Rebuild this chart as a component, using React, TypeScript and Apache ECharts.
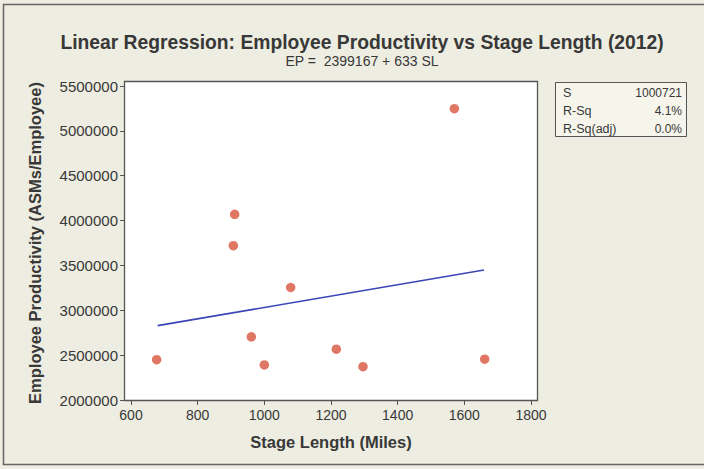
import React, { useEffect, useRef } from "react";
import * as echarts from "echarts";

const stageLength = [677, 911, 907, 961, 1000, 1079, 1216, 1296, 1570, 1661];
const productivity = [2450000, 4070000, 3720000, 2704000, 2391000, 3254000, 2566000, 2372000, 5247000, 2455000];
const fitX = [680, 1659];
const fitY = [2829000, 3449000];
const statLabels = ["S", "R-Sq", "R-Sq(adj)"];
const statValues = ["1000721", "4.1%", "0.0%"];
const titleText = "Linear Regression: Employee Productivity vs Stage Length (2012)";
const subtitleText = "EP =  2399167 + 633 SL";
const xTitle = "Stage Length (Miles)";
const yTitle = "Employee Productivity (ASMs/Employee)";

const FONT = "Liberation Sans, Arial, sans-serif";
const TXT = "#383838";
const FRAME = "#555555";

export default function App() {
  const ref = useRef<HTMLDivElement>(null);
  useEffect(() => {
    if (!ref.current) return;
    const chart = echarts.init(ref.current, undefined, { renderer: "svg" });
    const boxX = 555, boxY = 82, boxW = 131, boxH = 54;
    const statTexts: any[] = [];
    statLabels.forEach((l, i) => {
      statTexts.push({
        type: "text", x: boxX + 8, y: boxY + 11 + i * 18,
        style: { text: l, font: `12.5px ${FONT}`, fill: TXT, textAlign: "left", textVerticalAlign: "middle" },
      });
      statTexts.push({
        type: "text", x: boxX + boxW - 4, y: boxY + 11 + i * 18,
        style: { text: statValues[i], font: `12px ${FONT}`, fill: TXT, textAlign: "right", textVerticalAlign: "middle" },
      });
    });
    chart.setOption({
      animation: false,
      backgroundColor: "#eeede1",
      title: {
        text: titleText,
        subtext: subtitleText,
        left: 357,
        top: 28,
        textAlign: "center",
        itemGap: 2,
        textStyle: { fontFamily: FONT, fontWeight: "bold", fontSize: 19.3, color: TXT },
        subtextStyle: { fontFamily: FONT, fontSize: 14, color: TXT },
      },
      grid: { left: 131, right: 173, top: 86, bottom: 69 },
      xAxis: {
        type: "value", min: 600, max: 1800, interval: 200,
        name: xTitle, nameLocation: "middle", nameGap: 33,
        nameTextStyle: { fontFamily: FONT, fontWeight: "bold", fontSize: 16.5, color: TXT },
        axisLine: { show: false },
        axisTick: { show: true, length: 5, lineStyle: { color: FRAME } },
        axisLabel: { fontFamily: FONT, fontSize: 14, color: TXT, margin: 8, formatter: (v: number) => String(v) },
        splitLine: { show: false },
      },
      yAxis: {
        type: "value", min: 2000000, max: 5500000, interval: 500000, offset: 6,
        name: yTitle, nameLocation: "middle", nameGap: 82,
        nameTextStyle: { fontFamily: FONT, fontWeight: "bold", fontSize: 16.5, color: TXT },
        axisLine: { show: false },
        axisTick: { show: true, length: 5, lineStyle: { color: FRAME } },
        axisLabel: { fontFamily: FONT, fontSize: 15, color: TXT, margin: 7, formatter: (v: number) => String(v) },
        splitLine: { show: false },
      },
      series: [
        {
          type: "line",
          data: fitX.map((x, i) => [x, fitY[i]]),
          showSymbol: false,
          lineStyle: { color: "#3b45b5", width: 1.6 },
          z: 2,
        },
        {
          type: "scatter",
          data: stageLength.map((x, i) => [x, productivity[i]]),
          symbolSize: 9.5,
          itemStyle: { color: "#d8553f" },
          z: 3,
        },
      ],
      graphic: [
        {
          type: "rect", shape: { x: 3.5, y: 4.5, width: 710, height: 460 },
          style: { fill: "none", stroke: "#666666", lineWidth: 1.5 }, silent: true, z: -10,
        },
        {
          type: "rect", shape: { x: 124.5, y: 81.5, width: 413, height: 319 },
          style: { fill: "#ffffff", stroke: FRAME, lineWidth: 1.3 }, silent: true, z: -5,
        },
        {
          type: "rect", shape: { x: boxX + 0.5, y: boxY + 0.5, width: boxW, height: boxH },
          style: { fill: "#f6f5ec", stroke: FRAME, lineWidth: 1 }, silent: true,
        },
        ...statTexts,
      ],
    });
    return () => chart.dispose();
  }, []);
  return <div ref={ref} style={{ position: "fixed", left: 0, top: 0, width: 704, height: 469 }} />;
}
